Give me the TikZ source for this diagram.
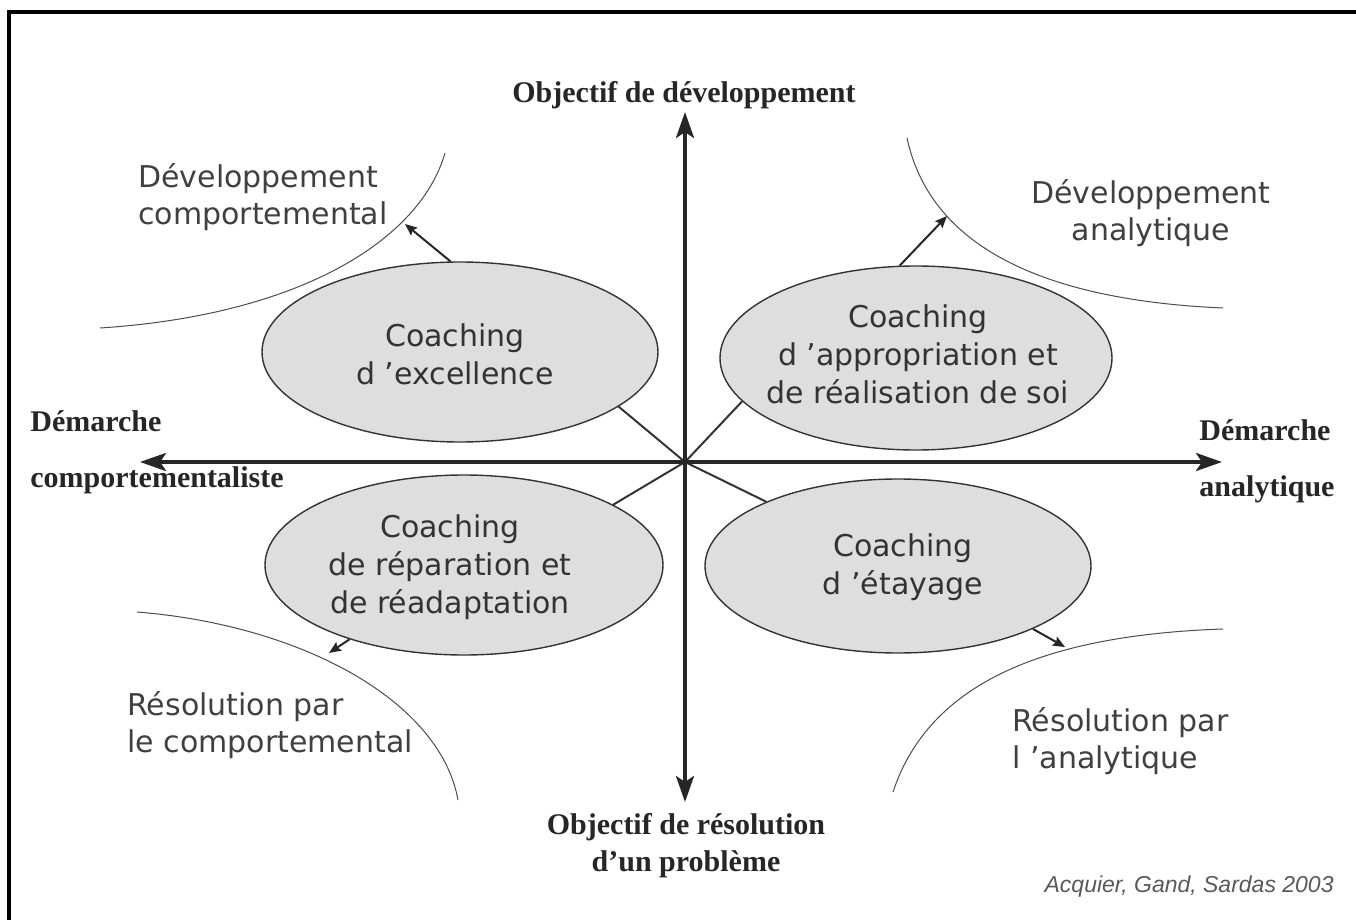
\documentclass[tikz,border=0pt]{standalone}
\usepackage{fontspec}
\setmainfont{DejaVu Sans}
\newfontfamily\serifbold{Liberation Serif}
\newfontfamily\citefont{Liberation Sans}
\usetikzlibrary{shapes.geometric,arrows.meta}
\begin{document}
\begin{tikzpicture}[x=0.5pt,y=-0.5pt,
  lbl/.style={font=\fontsize{15}{18.5}\selectfont, text=black!75, inner sep=0pt, align=left},
  inlbl/.style={font=\fontsize{15}{19}\selectfont, text=black!80, inner sep=0pt, align=center},
  axlbl/.style={font=\serifbold\bfseries\fontsize{15}{18.5}\selectfont, text=black!85, inner sep=0pt, align=center},
  coach/.style={ellipse, draw=black!80, line width=0.7pt, fill=black!13, inner sep=0pt},
  axisarr/.style={line width=2pt, draw=black!85, -{Stealth[length=13pt,width=9pt,inset=3pt]}},
  spoke/.style={line width=1pt, draw=black!80},
  outarr/.style={line width=1pt, draw=black!85, -{Stealth[length=6pt,width=5pt,inset=1pt]}},
  bound/.style={line width=0.5pt, draw=black!70}]
\useasboundingbox (0,0) rectangle (1356,920);
% frame
\draw[line width=2pt] (9,920) -- (9,12) -- (1356,12);
% boundary curves
\draw[bound] (100,328) .. controls (300,315) and (420,240) .. (445,153);
\draw[bound] (907,138) .. controls (930,245) and (1040,300) .. (1223,308);
\draw[bound] (137,612) .. controls (300,625) and (440,700) .. (458,800);
\draw[bound] (893,792) .. controls (930,680) and (1050,635) .. (1223,629);
% ellipses
\node[coach, minimum width=198pt, minimum height=90pt] (tl) at (460,352) {};
\node[coach, minimum width=196pt, minimum height=92pt] (tr) at (916,358) {};
\node[coach, minimum width=199pt, minimum height=90pt] (bl) at (464,565) {};
\node[coach, minimum width=193pt, minimum height=87pt] (br) at (898,566) {};
% axes
\coordinate (o) at (685,462);
\coordinate (vt) at (685,112);
\coordinate (vb) at (685,802);
\coordinate (hl) at (140,462);
\coordinate (hr) at (1222,462);
\draw[spoke] (o) -- (tl.-19.4);
\draw[spoke] (o) -- (tr.194.5);
\draw[spoke] (o) -- (bl.22.7);
\draw[spoke] (o) -- (br.154.1);
\draw[axisarr] (o) -- (vt);
\draw[axisarr] (o) -- (vb);
\draw[axisarr] (o) -- (hl);
\draw[axisarr] (o) -- (hr);
% outward arrows
\coordinate (a1) at (405,224);
\coordinate (a2) at (947,216);
\coordinate (a3) at (329,653);
\coordinate (a4) at (1065,647);
\draw[outarr] (tl.96) -- (a1);
\draw[outarr] (tr.100) -- (a2);
\draw[outarr] (bl.213.7) -- (a3);
\draw[outarr] (br.-25.5) -- (a4);
% ellipse texts
\node[inlbl] (ttl) at (455,354) {Coaching\\d ’excellence};
\node[inlbl] (ttr) at (918,354) {Coaching\\d ’appropriation et\\de réalisation de soi};
\node[inlbl] (tbl) at (450,567) {Coaching\\de réparation et\\de réadaptation};
\node[inlbl] (tbr) at (903,567) {Coaching\\d ’étayage};
% quadrant labels
\node[lbl, anchor=west] (qtl) at (138,197) {Développement\\comportemental};
\node[lbl, align=center] (qtr) at (1151,213) {Développement\\analytique};
\node[lbl, anchor=west] (qbl) at (127,725) {Résolution par\\le comportemental};
\node[lbl, anchor=west] (qbr) at (1012,741) {Résolution par\\l ’analytique};
% axis labels
\node[axlbl] (at) at (684,95) {Objectif de développement};
\node[axlbl] (ab) at (686,846) {Objectif de résolution\\d’un problème};
\node[axlbl, anchor=west] (al1) at (30,421) {Démarche};
\node[axlbl, anchor=west] (al2) at (30,480) {comportementaliste};
\node[axlbl] (ar1) at (1265,430) {Démarche};
\node[axlbl] (ar2) at (1267,489) {analytique};
% citation
\node[font=\citefont\itshape\fontsize{11.5}{14}\selectfont, text=black!65, anchor=east, inner sep=0pt] (cit) at (1334,887) {Acquier, Gand, Sardas 2003};
\end{tikzpicture}
\end{document}
